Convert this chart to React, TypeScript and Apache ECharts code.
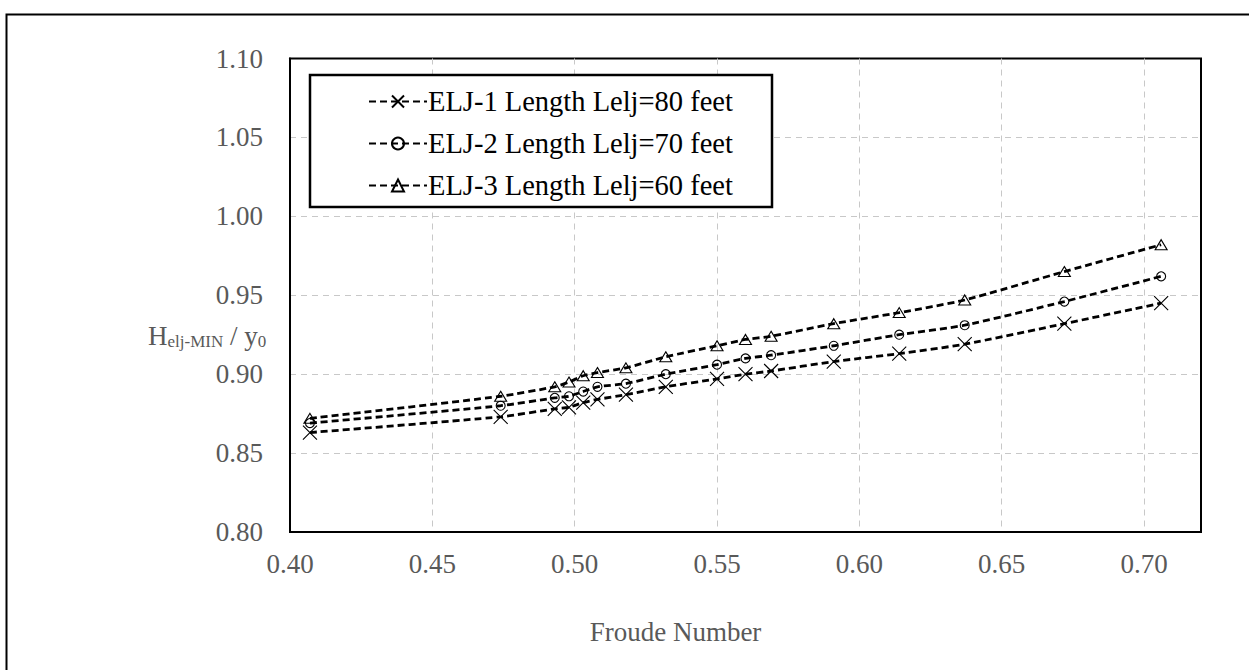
import React, { useEffect, useRef } from "react";
import * as echarts from "echarts";

const froude = [0.407, 0.474, 0.493, 0.498, 0.503, 0.508, 0.518, 0.532, 0.55, 0.56, 0.569, 0.591, 0.614, 0.637, 0.672, 0.706];
const elj1 = [0.863, 0.873, 0.878, 0.879, 0.882, 0.884, 0.887, 0.892, 0.897, 0.9, 0.902, 0.908, 0.913, 0.919, 0.932, 0.945];
const elj2 = [0.869, 0.88, 0.885, 0.886, 0.889, 0.892, 0.894, 0.9, 0.906, 0.91, 0.912, 0.918, 0.925, 0.931, 0.946, 0.962];
const elj3 = [0.872, 0.886, 0.892, 0.895, 0.899, 0.901, 0.904, 0.911, 0.918, 0.922, 0.924, 0.932, 0.939, 0.947, 0.965, 0.982];
const seriesNames = ["ELJ-1 Length Lelj=80 feet", "ELJ-2 Length Lelj=70 feet", "ELJ-3 Length Lelj=60 feet"];
const xTitle = "Froude Number";

const FONT = "'Liberation Serif', 'Times New Roman', serif";
const GRAY = "#595959";

export default function App() {
  const ref = useRef<HTMLDivElement>(null);
  useEffect(() => {
    if (!ref.current) return;
    const chart = echarts.init(ref.current, undefined, { renderer: "svg" });
    const mk = (name: string, ys: number[], symbol: string, size: number | number[]) => ({
      name,
      type: "line",
      data: froude.map((x, i) => [x, ys[i]]),
      smooth: 0.2,
      symbol,
      symbolSize: size,
      showAllSymbol: true,
      lineStyle: { color: "#000", width: 2.8, type: [7, 4] },
      itemStyle: { color: "none", borderColor: "#000", borderWidth: 1.1 },
      emphasis: { disabled: true },
      z: 3,
    });
    chart.setOption({
      animation: false,
      backgroundColor: "#fff",
      grid: {
        left: 290,
        top: 58.5,
        right: 48,
        bottom: 138,
        show: true,
        borderColor: "#000",
        borderWidth: 2,
        backgroundColor: "transparent",
      },
      legend: {
        orient: "vertical",
        left: 363,
        top: 82,
        itemWidth: 58,
        itemHeight: 15,
        itemGap: 13,
        data: seriesNames,
        textStyle: { fontFamily: FONT, fontSize: 28.5, color: "#000", lineHeight: 29, padding: [0, 0, 0, -4] },
      },
      xAxis: {
        type: "value",
        min: 0.4,
        max: 0.72,
        interval: 0.05,
        axisLine: { show: true, lineStyle: { color: "#000", width: 2 } },
        axisTick: { show: false },
        axisLabel: {
          showMaxLabel: false,
          formatter: (v: number) => v.toFixed(2),
          fontFamily: FONT,
          fontSize: 27,
          color: GRAY,
          margin: 18,
        },
        splitLine: { show: true, showMaxLine: false, showMinLine: false, lineStyle: { color: "#c8c8c8", type: [6, 5], width: 1 } },
        name: xTitle,
        nameLocation: "middle",
        nameGap: 86,
        nameTextStyle: { fontFamily: FONT, fontSize: 27, color: GRAY, padding: [0, 140, 0, 0] },
      },
      yAxis: {
        type: "value",
        min: 0.8,
        max: 1.1,
        interval: 0.05,
        axisLine: { show: true, lineStyle: { color: "#000", width: 2 } },
        axisTick: { show: false },
        axisLabel: {
          formatter: (v: number) => v.toFixed(2),
          fontFamily: FONT,
          fontSize: 27,
          color: GRAY,
          margin: 27,
        },
        splitLine: { show: true, showMaxLine: false, showMinLine: false, lineStyle: { color: "#c8c8c8", type: [6, 5], width: 1 } },
      },
      graphic: [
        {
          type: "rect",
          left: 4,
          top: 12,
          shape: { x: 0, y: 0, width: 1300, height: 700 },
          style: { fill: "none", stroke: "#000", lineWidth: 2 },
          silent: true,
          z: -10,
        },
        {
          type: "rect",
          shape: { x: 310, y: 75, width: 462, height: 132 },
          style: { fill: "#fff", stroke: "#000", lineWidth: 2.5 },
          silent: true,
          z: 1,
        },
        {
          type: "text",
          x: 148,
          y: 336,
          silent: true,
          style: {
            text: "{m|H}{s|elj-MIN}{m| / y}{s|0}",
            verticalAlign: "middle",
            rich: {
              m: { fontFamily: FONT, fontSize: 27, fill: GRAY },
              s: { fontFamily: FONT, fontSize: 17, fill: GRAY, padding: [10, 0, 0, 0] },
            },
          },
        },
      ],
      series: [
        mk(seriesNames[0], elj1, "path://M0,0L10,10M10,0L0,10", 14),
        mk(seriesNames[1], elj2, "circle", 9),
        mk(seriesNames[2], elj3, "triangle", [12, 10]),
      ],
    });
    return () => chart.dispose();
  }, []);
  return <div ref={ref} style={{ position: "absolute", left: 0, top: 0, width: 1249, height: 670 }} />;
}
